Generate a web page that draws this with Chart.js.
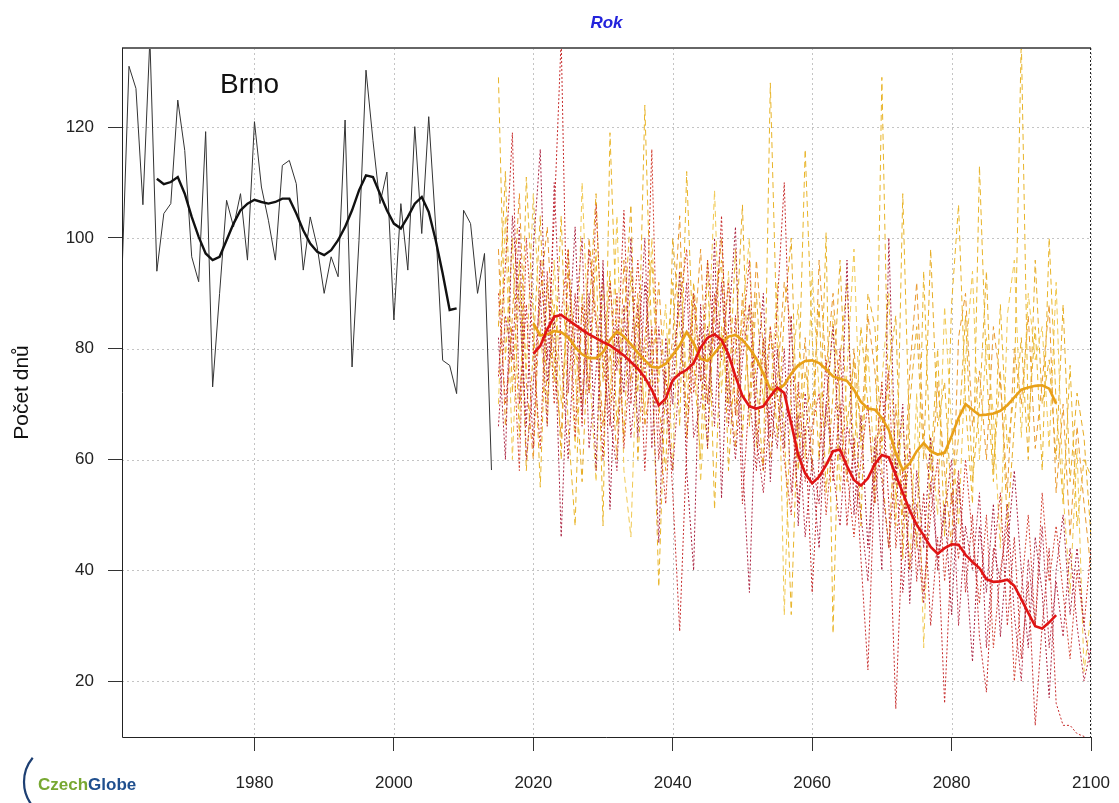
<!DOCTYPE html>
<html>
<head>
<meta charset="utf-8">
<script src="https://cdn.jsdelivr.net/npm/chart.js@4/dist/chart.umd.min.js"></script>
<style>
  html, body { margin: 0; padding: 0; background: #fff; }
  #wrap { width: 1119px; height: 803px; position: relative; }
</style>
</head>
<body>
<div id="wrap"><canvas id="chart" width="1119" height="803"></canvas></div>
<script>
// observed (1961-2014) and its smoothed curve (1966-2009)
const obsStart = 1961
const observed = [93.5, 131, 127, 106, 136, 94, 104.4, 106.2, 124.9, 115.8,
  96.6, 92.1, 119.2, 73.1, 90, 106.8, 102, 108, 96, 121,
  109.2, 103.2, 96, 113.1, 114, 109.8, 94.2, 103.8, 98.4, 90,
  96.6, 93, 121.3, 76.7, 99.6, 130.3, 117.6, 106.2, 111.9, 85.2,
  106.2, 94.2, 120.1, 100.8, 121.9, 102, 77.9, 77, 71.9, 105,
  102.6, 90, 97.2, 58.1]
const obsSmoothStart = 1966
const observedSmooth = [110.7, 109.7, 110.1, 111, 108, 103.8, 100.2, 97.2, 96, 96.6,
  99.6, 102.6, 105, 106.2, 106.9, 106.5, 106.2, 106.5, 107.1, 107.1,
  104.4, 101.4, 99, 97.5, 96.9, 97.8, 99.6, 102, 105, 108.6,
  111.3, 111, 108, 105, 102.6, 101.7, 103.8, 106.2, 107.4, 104.7,
  99.6, 93.6, 87, 87.3]

// model runs 2015-2100
const futStart = 2015
const yellowA = [129, 78, 100, 64, 111, 86, 55, 92, 74, 104,
  66, 48, 90, 72, 98, 48, 119, 82, 64, 94,
  72, 124, 80, 37, 76, 92, 66, 112, 78, 60,
  96, 51, 84, 70, 98, 64, 88, 74, 58, 128,
  80, 66, 32, 70, 116, 82, 60, 101, 28.6, 78,
  92, 60, 84, 70, 52, 129, 66, 48, 108, 62,
  44, 94, 58, 80, 46, 88, 106, 70, 52, 113,
  76, 56, 88, 62, 72, 136, 66, 84, 58, 100,
  70, 52, 77, 48, 60, 57]
const yellowB = [70, 104, 60, 92, 76, 108, 84, 66, 96, 70,
  88, 62, 110, 78, 56, 92, 70, 104, 58, 46,
  86, 68, 100, 74, 88, 58, 96, 74, 90, 56,
  78, 108.6, 72, 94, 68, 86, 100, 62, 82, 70,
  92, 31.9, 74, 88, 60, 94, 72, 66, 86, 54,
  76, 98, 62, 80, 56, 74, 90, 52, 68, 40,
  72, 26, 64, 50, 87.6, 66, 48, 78, 94, 60,
  82, 68, 44, 86, 96, 64, 90, 78, 84, 62,
  92, 54, 35.8, 62, 21.7, 32]
const orangeC = [98, 66, 86, 108, 74, 60, 90, 102, 78, 64,
  94, 80, 70, 100, 86, 66, 80, 60, 96, 74,
  90, 66, 76, 92, 70, 82, 104, 64, 80, 98,
  70, 86, 100, 76, 62, 90, 70, 96, 80, 60,
  74, 92, 84, 64, 82, 58, 96, 76, 90, 70,
  56, 80, 64, 86, 76, 58, 44, 70, 50, 76,
  92, 64, 54, 74, 58, 44, 82, 90, 66, 76,
  60, 84, 74, 54, 80, 70, 86, 62, 74, 88,
  54, 70, 46, 66, 52, 40]
const yellowD = [84, 112, 72, 96, 58, 80, 104, 70, 88, 60,
  98, 76, 56, 86, 108, 74, 94, 66, 84, 106,
  60, 82, 96, 70, 58, 100, 84, 68, 92, 76,
  62, 88, 96, 58, 80, 106, 66, 90, 70, 84,
  64, 86, 100, 58, 76, 68, 88, 54, 72, 96,
  66, 78, 48, 90, 84, 62, 76, 86, 42, 70,
  84, 60, 98, 66, 74, 52, 64, 86, 56, 70,
  94, 58, 76, 48, 66, 82, 60, 96, 70, 78,
  60, 88, 56, 72, 64, 46]
const redA = [75, 95, 119, 70, 88, 62, 96, 78, 104, 136,
  72, 90, 66, 98, 84, 60, 92, 76, 105, 70,
  88, 58, 84, 60, 76, 54, 29, 62, 90, 74,
  96, 80, 104, 66, 86, 52, 72, 58, 82, 64,
  88, 110, 70, 52, 66, 36, 60, 78, 56, 70,
  48, 64, 42, 22, 58, 74, 52, 15, 48, 62,
  38, 54, 30, 46, 16, 44, 58, 36, 50, 28,
  18, 42, 54, 30, 46, 24, 38, 12, 30, 44,
  16, 12, 12, 10.5, 10, 9]
const redB = [82, 60, 104, 88, 66, 98, 116, 74, 86, 46,
  80, 102, 68, 90, 58, 96, 51, 84, 72, 100,
  64, 92, 76, 45, 82, 70, 94, 58, 40, 88,
  62, 100, 53, 84, 102, 60, 36, 74, 90, 56,
  80, 62, 86, 48, 72, 58, 44, 70, 84, 60,
  96, 50, 68, 44, 62, 40, 100, 56, 70, 34,
  58, 44, 64, 40, 52, 32, 56, 42, 23.5, 48,
  36, 52, 28, 44, 58, 40, 26, 46, 36, 17,
  40, 50, 32, 44, 30, 22]
const redC = [90, 70, 84, 58, 100, 80, 62, 94, 70, 86,
  98, 64, 88, 72, 106, 78, 66, 90, 62, 80,
  96, 74, 116, 66, 52, 78, 88, 98, 72, 84,
  70, 90, 78, 92, 68, 82, 96, 66, 58, 84,
  72, 60, 50, 74, 56, 66, 72, 50, 64, 80,
  58, 46, 60, 70, 52, 66, 76, 44, 58, 40,
  52, 36, 50, 60, 38, 54, 42, 60, 46, 34,
  50, 26, 40, 48, 20, 36, 50, 30, 54, 38,
  48, 36, 24, 40, 30, 44]
const redD = [66, 86, 78, 102, 60, 74, 90, 66, 110, 80,
  60, 84, 100, 62, 76, 94, 68, 58, 88, 64,
  78, 100, 62, 84, 70, 58, 76, 92, 64, 70,
  84, 66, 92, 74, 60, 78, 88, 64, 54, 70,
  62, 80, 54, 68, 46, 60, 52, 70, 58, 48,
  66, 60, 50, 38, 64, 56, 44, 60, 36, 52,
  46, 34, 56, 42, 50, 60, 30, 48, 40, 54,
  26, 44, 38, 52, 32, 20, 42, 30, 48, 26,
  38, 28, 44, 30, 20, 26]

// smoothed model means 2020-2095
const smoothStart = 2020
const orangeSmooth = [84.6, 82.4, 82.6, 83.2, 83, 82.1, 80.3, 79, 78.3, 78.3,
  79.4, 81.6, 83.1, 82.2, 80.8, 79.3, 77.9, 76.7, 76.6, 77.3,
  78.9, 80.6, 83, 81, 78.2, 77.8, 79.2, 80.8, 82.2, 82.5,
  81.6, 80.1, 78.2, 75.5, 72.7, 72.5, 73.5, 75.5, 77, 77.8,
  77.9, 77.4, 76.3, 75, 74.6, 74.2, 72.6, 70.4, 69.2, 69,
  67.5, 65.3, 61.1, 58.1, 59.3, 61.5, 63, 61.5, 60.9, 61.2,
  64.2, 67.5, 70, 69, 68, 68.1, 68.3, 68.8, 69.8, 71.2,
  72.6, 73, 73.3, 73.4, 72.8, 70.1]
const redSmooth = [79.1, 80.5, 83.5, 85.8, 86.1, 85.2, 84.3, 83.4, 82.6, 81.9,
  81.2, 80.6, 79.7, 78.8, 77.6, 76.4, 74.8, 72.6, 69.8, 71,
  74.3, 75.5, 76.2, 77.4, 80.2, 82, 82.6, 81.6, 79, 75,
  71.5, 69.6, 69.2, 69.6, 71.4, 73, 72, 66.5, 60.8, 57.5,
  55.7, 56.9, 59, 61.5, 61.8, 58.8, 56.3, 55.3, 56.6, 59.2,
  60.8, 60.4, 57.2, 54, 50.8, 48.2, 46.3, 44.2, 43, 44,
  44.7, 44.6, 42.8, 41.5, 40.4, 38.4, 37.9, 38, 38.3, 37.2,
  34.8, 32.3, 29.9, 29.5, 30.6, 31.9]

const xTicks = [1980, 2000, 2020, 2040, 2060, 2080, 2100]
const yTicks = [20, 40, 60, 80, 100, 120]

const FONT = '"Liberation Sans", Arial, sans-serif'

const pts = (start, arr) => arr.map((v, i) => ({ x: start + i, y: v }))

const line = (data, color, width, dash) => ({
  data,
  borderColor: color,
  borderWidth: width,
  borderDash: dash || [],
  pointRadius: 0,
  tension: 0,
  fill: false,
})

const decor = {
  id: 'decor',
  beforeDatasetsDraw(chart) {
    const { ctx, chartArea: a, scales } = chart
    ctx.save()
    ctx.strokeStyle = '#c4c4c4'
    ctx.lineWidth = 1
    ctx.setLineDash([2, 3])
    xTicks.forEach((t) => {
      const x = Math.round(scales.x.getPixelForValue(t)) + 0.5
      ctx.beginPath(); ctx.moveTo(x, a.top); ctx.lineTo(x, a.bottom); ctx.stroke()
    })
    yTicks.forEach((t) => {
      const y = Math.round(scales.y.getPixelForValue(t)) + 0.5
      ctx.beginPath(); ctx.moveTo(a.left, y); ctx.lineTo(a.right, y); ctx.stroke()
    })
    ctx.restore()
  },
  afterDraw(chart) {
    const { ctx, chartArea: a } = chart
    ctx.save()
    // frame
    ctx.setLineDash([])
    ctx.strokeStyle = '#666'
    ctx.lineWidth = 2
    ctx.beginPath(); ctx.moveTo(a.left, a.top); ctx.lineTo(a.right, a.top); ctx.stroke()
    ctx.strokeStyle = '#222'
    ctx.lineWidth = 1
    ctx.beginPath()
    ctx.moveTo(a.left + 0.5, a.top); ctx.lineTo(a.left + 0.5, a.bottom + 0.5); ctx.lineTo(a.right, a.bottom + 0.5)
    ctx.stroke()
    ctx.setLineDash([2, 2])
    ctx.beginPath(); ctx.moveTo(a.right - 0.5, a.top); ctx.lineTo(a.right - 0.5, a.bottom); ctx.stroke()
    ctx.setLineDash([])

    // title
    ctx.fillStyle = '#2323dc'
    ctx.font = 'italic bold 17px ' + FONT
    ctx.textAlign = 'center'
    ctx.textBaseline = 'alphabetic'
    ctx.fillText('Rok', (a.left + a.right) / 2, 28)

    // station
    ctx.fillStyle = '#111'
    ctx.font = '28px ' + FONT
    ctx.textAlign = 'left'
    ctx.fillText('Brno', 220, 93)

    // y title
    ctx.save()
    ctx.translate(28, (a.top + a.bottom) / 2)
    ctx.rotate(-Math.PI / 2)
    ctx.font = '21px ' + FONT
    ctx.textAlign = 'center'
    ctx.fillStyle = '#111'
    ctx.fillText('Počet dnů', 0, 0)
    ctx.restore()

    // logo
    ctx.strokeStyle = '#1d3f72'
    ctx.lineWidth = 2.2
    ctx.beginPath()
    ctx.arc(62, 782, 38, Math.PI * 0.78, Math.PI * 1.22)
    ctx.stroke()
    ctx.font = 'bold 17px ' + FONT
    ctx.textAlign = 'left'
    ctx.fillStyle = '#78a832'
    ctx.fillText('Czech', 38, 790)
    const w = ctx.measureText('Czech').width
    ctx.fillStyle = '#1f4f8e'
    ctx.fillText('Globe', 38 + w, 790)
    ctx.restore()
  },
}

const init = function () {
  const ctx = document.getElementById('chart')
  new Chart(ctx, {
    type: 'line',
    data: {
      datasets: [
        line(pts(smoothStart, redSmooth), '#e01414', 2.6),
        line(pts(smoothStart, orangeSmooth), '#e8a018', 2.6),
        line(pts(obsSmoothStart, observedSmooth), '#111', 2.4),
        line(pts(obsStart, observed), '#333', 1),
        line(pts(futStart, redA), '#c62a2a', 1, [2, 2]),
        line(pts(futStart, redB), '#a81e3c', 1, [2, 2]),
        line(pts(futStart, redC), '#d23c2c', 1, [2, 2]),
        line(pts(futStart, redD), '#b82c44', 1, [2, 2]),
        line(pts(futStart, yellowA), '#e8b428', 1, [6, 4]),
        line(pts(futStart, yellowB), '#f0c850', 1, [6, 4]),
        line(pts(futStart, orangeC), '#e8982c', 1, [6, 4]),
        line(pts(futStart, yellowD), '#e6ac24', 1, [6, 4]),
      ],
    },
    options: {
      responsive: false,
      animation: false,
      events: [],
      layout: { padding: { top: 48, right: 28, left: 0, bottom: 0 } },
      plugins: { legend: { display: false }, tooltip: { enabled: false }, title: { display: false } },
      scales: {
        x: {
          type: 'linear',
          min: 1961,
          max: 2100,
          afterBuildTicks: (s) => { s.ticks = xTicks.map((v) => ({ value: v })) },
          afterFit: (s) => { s.height = 66; s.paddingRight = 0; s.paddingLeft = 0 },
          grid: { display: true, drawOnChartArea: false, drawTicks: true, tickLength: 14, color: '#333', tickColor: '#333' },
          border: { display: false },
          ticks: { color: '#222', padding: 22, maxRotation: 0, font: { family: FONT, size: 17 }, callback: (v) => String(v) },
        },
        y: {
          type: 'linear',
          min: 9.9,
          max: 134.3,
          afterBuildTicks: (s) => { s.ticks = yTicks.map((v) => ({ value: v })) },
          afterFit: (s) => { s.width = 122; s.paddingTop = 0; s.paddingBottom = 0 },
          grid: { display: true, drawOnChartArea: false, drawTicks: true, tickLength: 14, color: '#333', tickColor: '#333' },
          border: { display: false },
          ticks: { color: '#222', padding: 14, font: { family: FONT, size: 17 } },
        },
      },
    },
    plugins: [decor],
  })
}

document.addEventListener('DOMContentLoaded', function () {
  init()
})
</script>
</body>
</html>
